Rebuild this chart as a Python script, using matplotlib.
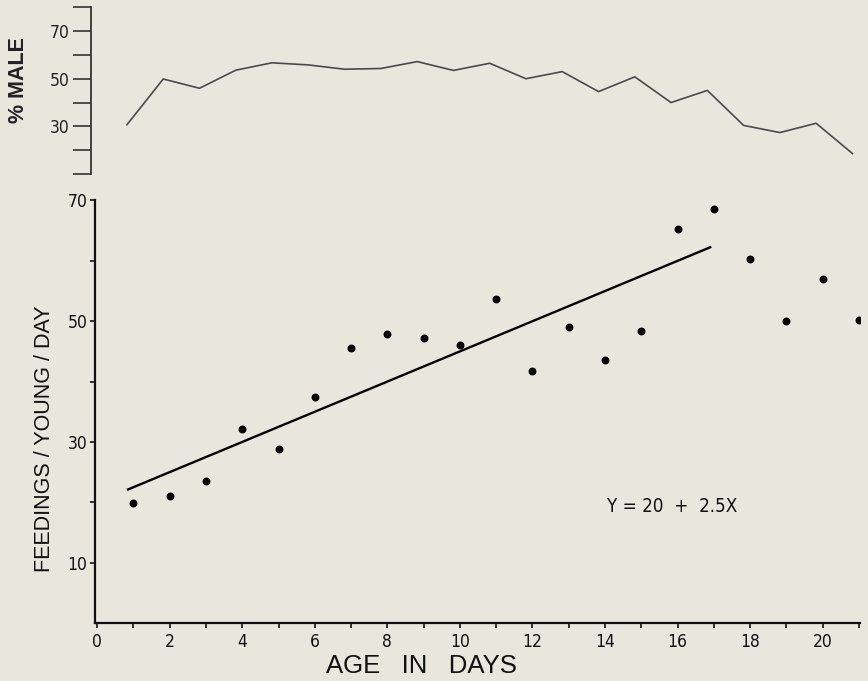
import matplotlib
matplotlib.use("Agg")
import matplotlib.pyplot as plt
import numpy as np

# ---- data ----
days = list(range(1, 22))
pct_male = [30.7, 49.9, 46.0, 53.6, 56.7, 55.8, 54.0, 54.3, 57.2, 53.5, 56.5,
            50.0, 53.0, 44.6, 50.8, 40.0, 45.1, 30.4, 27.4, 31.3, 18.6]
feedings = [19.8, 21.0, 23.5, 32.2, 28.8, 37.4, 45.5, 47.9, 47.3, 46.1, 53.6,
            41.8, 49.0, 43.6, 48.4, 65.3, 68.6, 60.3, 50.1, 57.0, 50.2]
fit_intercept = 20.0
fit_slope = 2.5
fit_range = [0.85, 16.9]
x_ticklabels = [0, 2, 4, 6, 8, 10, 12, 14, 16, 18, 20]
y_ticklabels_bottom = [10, 30, 50, 70]
y_ticklabels_top = [30, 50, 70]

BG = "#e9e6de"
W, H = 868, 681
plt.rcParams['font.family'] = ['Liberation Sans', 'DejaVu Sans']

fig = plt.figure(figsize=(W / 100, H / 100), dpi=100, facecolor=BG)

xmin, xmax = -0.06, 21.03
tickfont = dict(family=['DejaVu Sans'], stretch='condensed', size=12.5)

# bottom axes
bl, br, bb, bt = 95, 860, 623, 200.5
ax = fig.add_axes([bl / W, 1 - bb / H, (br - bl) / W, (bb - bt) / H])
ax.set_facecolor(BG)
ax.set_xlim(xmin, xmax)
ax.set_ylim(0, 70)
ax.scatter(days, feedings, s=22, color="black", zorder=3)
fx = np.array(fit_range)
ax.plot(fx, fit_intercept + fit_slope * fx, color="black", lw=1.7)
ax.text(15.85, 19.3, "Y = 20  +  2.5X", ha="center", va="center", fontsize=13.5,
        color="#111111", family=['DejaVu Sans'], stretch='condensed')
for s in ["top", "right"]:
    ax.spines[s].set_visible(False)
for s in ["left", "bottom"]:
    ax.spines[s].set_linewidth(1.6)
    ax.spines[s].set_color("#111111")
ax.set_xticks(range(0, 22))
ax.set_xticklabels([str(v) if v in x_ticklabels else "" for v in range(0, 22)],
                   fontdict=tickfont)
ax.set_yticks(range(10, 71, 10))
ax.set_yticklabels([str(v) if v in y_ticklabels_bottom else "" for v in range(10, 71, 10)],
                   fontdict=tickfont)
ax.tick_params(axis="both", direction="out", length=3.5, width=1.2, color="#111111",
               labelcolor="#111111", pad=4)
ax.tick_params(axis="y", pad=2)
fig.text(421 / W, 1 - 666 / H, "AGE   IN   DAYS", fontsize=18.5, color="#111111",
         ha="center", va="center")
fig.text(45 / W, 1 - 439 / H, "FEEDINGS / YOUNG / DAY", fontsize=15.5, color="#111111",
         ha="center", va="center", rotation=90)

# top axes
tl, tb, tt = 90.7, 174, 7.3
dx = (br - bl) / (xmax - xmin)
ax2 = fig.add_axes([tl / W, 1 - tb / H, (xmax - xmin) * dx / W, (tb - tt) / H])
ax2.set_facecolor("none")
ax2.set_xlim(xmin + 0.06, xmax + 0.06)
ax2.set_ylim(10, 80)
ax2.plot(days, pct_male, color="#4a4a4a", lw=1.2)
for s in ["top", "right", "bottom"]:
    ax2.spines[s].set_visible(False)
ax2.spines["left"].set_linewidth(1.3)
ax2.spines["left"].set_color("#333333")
ax2.set_xticks([])
ax2.set_yticks(range(10, 81, 10))
ax2.set_yticklabels([str(v) if v in y_ticklabels_top else "" for v in range(10, 81, 10)],
                    fontdict=tickfont)
ax2.tick_params(axis="y", direction="out", length=13, width=1.2, color="#333333",
                labelcolor="#222222", pad=2)
fig.text(19 / W, 1 - 80 / H, "% MALE", fontsize=15.5, fontweight="bold", color="#222222",
         ha="center", va="center", rotation=90)

fig.savefig("out.png", dpi=100, facecolor=BG)
